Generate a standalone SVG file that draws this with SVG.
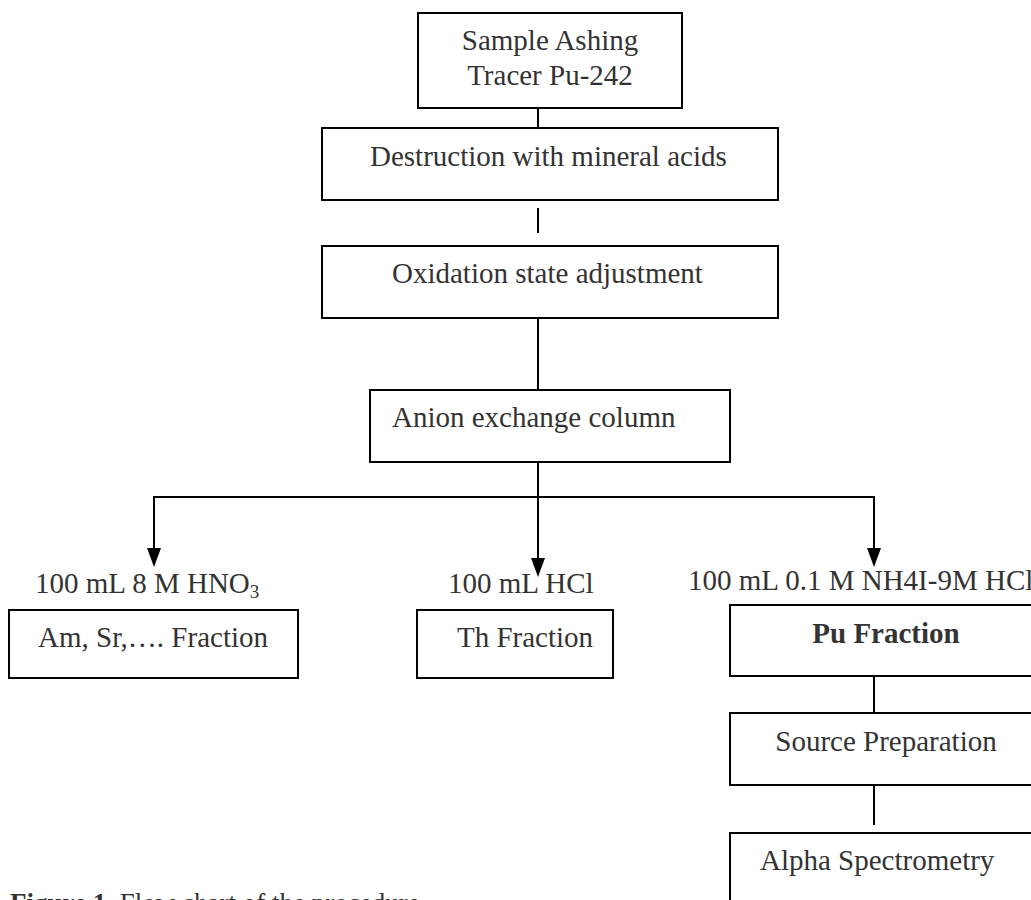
<svg xmlns="http://www.w3.org/2000/svg" width="1031" height="900" viewBox="0 0 1031 900">
<defs>
<style>
.box{fill:#fff;stroke:#000;stroke-width:2}
.t{font-family:"Liberation Serif","Times New Roman",serif;font-size:29px;fill:#333}
.cap{font-size:27px}
.sub{font-size:19px}
.b{font-weight:bold}
.ln{stroke:#000;stroke-width:2;fill:none}
</style>
</defs>
<rect width="1031" height="900" fill="#fff"/>
<g id="connectors">
<line class="ln" x1="538" y1="108" x2="538" y2="128"/>
<line class="ln" x1="538" y1="208" x2="538" y2="233"/>
<line class="ln" x1="538" y1="318" x2="538" y2="390"/>
<line class="ln" x1="538" y1="462" x2="538" y2="558"/>
<polygon points="531,558 545,558 538,577" fill="#000"/>
<polyline class="ln" points="154,548 154,497 874,497 874,548"/>
<polygon points="147,548 161,548 154,567" fill="#000"/>
<polygon points="867,548 881,548 874,567" fill="#000"/>
<line class="ln" x1="874" y1="676" x2="874" y2="713"/>
<line class="ln" x1="874" y1="785" x2="874" y2="825"/>
</g>
<g id="n1"><rect class="box" x="418" y="13" width="264" height="95"/>
<text class="t" x="550" y="50" text-anchor="middle">Sample Ashing</text>
<text class="t" x="550" y="85" text-anchor="middle">Tracer Pu-242</text></g>
<g id="n2"><rect class="box" x="322" y="128" width="456" height="72"/>
<text class="t" x="370" y="166">Destruction with mineral acids</text></g>
<g id="n3"><rect class="box" x="322" y="246" width="456" height="72"/>
<text class="t" x="392" y="283">Oxidation state adjustment</text></g>
<g id="n4"><rect class="box" x="370" y="390" width="360" height="72"/>
<text class="t" x="392" y="427">Anion exchange column</text></g>
<g id="l1"><text class="t" x="35" y="593">100 mL 8 M HNO<tspan class="sub" dy="5">3</tspan></text></g>
<g id="l2"><text class="t" x="448" y="593">100 mL HCl</text></g>
<g id="l3"><text class="t" x="688" y="590">100 mL 0.1 M NH4I-9M HCl</text></g>
<g id="n5"><rect class="box" x="9" y="610" width="289" height="68"/>
<text class="t" x="38" y="647">Am, Sr,…. Fraction</text></g>
<g id="n6"><rect class="box" x="417" y="610" width="196" height="68"/>
<text class="t" x="457" y="647">Th Fraction</text></g>
<g id="n7"><rect class="box" x="730" y="605" width="320" height="71"/>
<text class="t b" x="886" y="643" text-anchor="middle">Pu Fraction</text></g>
<g id="n8"><rect class="box" x="730" y="713" width="320" height="72"/>
<text class="t" x="886" y="751" text-anchor="middle">Source Preparation</text></g>
<g id="n9"><rect class="box" x="730" y="833" width="320" height="90"/>
<text class="t" x="760" y="870">Alpha Spectrometry</text></g>
<g id="caption"><text class="t cap" x="10" y="912"><tspan class="b">Figure 1</tspan>. Flow chart of the procedure</text></g>
</svg>
